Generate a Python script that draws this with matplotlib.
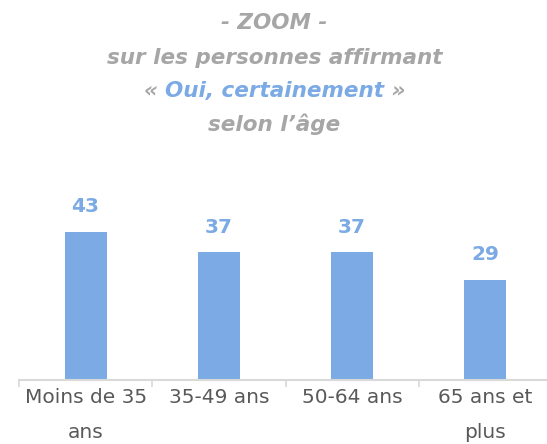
import matplotlib
matplotlib.use("Agg")
import matplotlib.pyplot as plt

categories = ["Moins de 35\nans", "35-49 ans", "50-64 ans", "65 ans et\nplus"]
values = [43, 37, 37, 29]

BLUE = "#7BAAE4"
GRAY_TITLE = "#A6A6A6"
GRAY_TEXT = "#595959"
AXIS = "#D9D9D9"

plt.rcParams['font.family'] = ['DejaVu Sans']

W, H = 547, 444
fig = plt.figure(figsize=(W / 100, H / 100), dpi=100)
left_px, right_px = 19, 552
bottom_px = 380
ymax = 50
px_per_unit = 3.45
ax = fig.add_axes([left_px / W, (H - bottom_px) / H, (right_px - left_px) / W, ymax * px_per_unit / H])

x = list(range(len(categories)))
ax.bar(x, values, width=0.315, color=BLUE, zorder=2)
for xi, v in zip(x, values):
    ax.annotate(str(v), (xi, v), xytext=(0, 18), textcoords="offset points",
                ha="center", va="center", fontsize=14.5, fontweight="bold", color=BLUE)

ax.set_xlim(-0.5, 3.5)
ax.set_ylim(0, ymax)
for s in ["top", "right", "left"]:
    ax.spines[s].set_visible(False)
ax.spines["bottom"].set_color(AXIS)
ax.spines["bottom"].set_linewidth(1.5)
ax.set_yticks([])
ax.set_xticks([-0.5, 0.5, 1.5, 2.5, 3.5])
ax.set_xticklabels([])
ax.tick_params(axis="x", which="major", length=5, width=1.2, color=AXIS, direction="out")
ax.set_xticks(x, minor=True)
ax.set_xticklabels(categories, minor=True, fontsize=14.5, color=GRAY_TEXT, linespacing=2.05)
ax.tick_params(axis="x", which="minor", length=0, pad=6)

# Title
cx = 0.502
title_kw = dict(ha="center", va="center", fontsize=15.5, fontweight="bold", style="italic",
                color=GRAY_TITLE)
fig.text(cx, 1 - 23 / H, "- ZOOM -", **title_kw)
fig.text(cx, 1 - 58 / H, "sur les personnes affirmant", **title_kw)
fig.text(cx, 1 - 124 / H, "selon l\u2019âge", **title_kw)

# mixed-color line
y3 = 1 - 91 / H
pieces = [("\u00ab ", GRAY_TITLE), ("Oui, certainement", BLUE), (" \u00bb", GRAY_TITLE)]
fig.canvas.draw()
r = fig.canvas.get_renderer()
texts = []
widths = []
for s, c in pieces:
    kw = dict(title_kw)
    kw["color"] = c
    kw["ha"] = "left"
    t = fig.text(0, y3, s, **kw)
    texts.append(t)
    widths.append(t.get_window_extent(renderer=r).width)
total = sum(widths)
start = cx * W - total / 2
pos = start
for t, w in zip(texts, widths):
    t.set_x(pos / W)
    pos += w

fig.savefig("out.png", dpi=100)
